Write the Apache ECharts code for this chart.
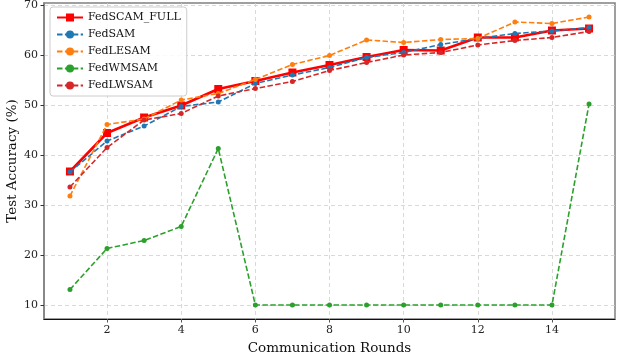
<!DOCTYPE html>
<html><head><meta charset="utf-8">
<script src="https://cdn.jsdelivr.net/npm/echarts@6/dist/echarts.min.js"></script>
<style>html,body{margin:0;padding:0;background:#fff}#c{width:620px;height:357px}</style>
</head><body><div id="c"></div>
<script>
const rounds = [1,2,3,4,5,6,7,8,9,10,11,12,13,14,15];
const fedSCAMFull = [36.7,44.4,47.5,49.9,53.2,54.8,56.5,58.0,59.6,61.0,60.9,63.5,63.5,64.9,65.3];
const fedSAM     = [36.6,42.8,45.8,49.7,50.6,54.3,56.0,57.5,59.5,60.5,62.1,63.3,64.3,64.8,65.5];
const fedLESAM   = [31.8,46.1,47.2,51.0,52.3,55.1,58.1,59.9,63.0,62.5,63.1,63.3,66.6,66.3,67.6];
const fedWMSAM   = [13.1,21.3,22.9,25.7,41.3,10.0,10.0,10.0,10.0,10.0,10.0,10.0,10.0,10.0,50.2];
const fedLWSAM   = [33.6,41.5,47.0,48.3,51.8,53.3,54.7,56.9,58.5,60.0,60.5,62.0,62.9,63.5,64.7];
const xTicks = [2,4,6,8,10,12,14];
const yTicks = [10,20,30,40,50,60,70];

const font = 'DejaVu Serif';
const pair = a => rounds.map((r,i)=>[r,a[i]]);
function dashed(name, data, color){
  return {name, type:'line', data:pair(data), symbol:'circle', symbolSize:5,
    lineStyle:{color, width:1.6, type:[5.5,2.4]}, itemStyle:{color}, z:3};
}
const chart = echarts.init(document.getElementById('c'), null, {renderer:'canvas'});
chart.setOption({
  animation:false,
  textStyle:{fontFamily:font},
  grid:{left:44, right:5, top:3, bottom:38, show:true, borderColor:'#808080', borderWidth:1.5,
    containLabel:false, outerBoundsMode:'none'},
  legend:{
    orient:'vertical', left:50, top:7, padding:[5,6,5,6], itemGap:6,
    itemWidth:26, itemHeight:10,
    backgroundColor:'rgba(255,255,255,0.85)', borderColor:'#cccccc', borderWidth:1, borderRadius:3,
    textStyle:{fontFamily:font, fontSize:11, color:'#111'},
    data:['FedSCAM_FULL','FedSAM','FedLESAM','FedWMSAM','FedLWSAM']
  },
  xAxis:{type:'value', min:0.3, max:15.7,
    name:'Communication Rounds', nameLocation:'middle', nameGap:22, nameMoveOverlap:false,
    nameTextStyle:{fontFamily:font, fontSize:13.5, color:'#111'},
    axisLine:{show:true, lineStyle:{color:'#111', width:1}},
    axisTick:{show:true, length:3.5, customValues:xTicks, lineStyle:{color:'#555'}},
    axisLabel:{customValues:xTicks, fontFamily:font, fontSize:11, color:'#222', margin:6},
    splitLine:{show:true, lineStyle:{color:'#cfcfcf', type:[4,3], width:0.8}}
  },
  yAxis:{type:'value', min:7.2, max:70.4,
    name:'Test Accuracy (%)', nameLocation:'middle', nameGap:25, nameMoveOverlap:false,
    nameTextStyle:{fontFamily:font, fontSize:13.5, color:'#111'},
    axisLine:{show:true, lineStyle:{color:'#808080', width:1.5}},
    axisTick:{show:true, length:3.5, customValues:yTicks, lineStyle:{color:'#333'}},
    axisLabel:{customValues:yTicks, fontFamily:font, fontSize:11, color:'#222', margin:6},
    splitLine:{show:true, lineStyle:{color:'#cfcfcf', type:[4,3], width:0.8}}
  },
  series:[
    {name:'FedSCAM_FULL', type:'line', data:pair(fedSCAMFull), symbol:'rect', symbolSize:8,
      lineStyle:{color:'#ff0000', width:2.6}, itemStyle:{color:'#ff0000'}, z:2},
    dashed('FedSAM', fedSAM, '#1f77b4'),
    dashed('FedLESAM', fedLESAM, '#ff7f0e'),
    dashed('FedWMSAM', fedWMSAM, '#2ca02c'),
    dashed('FedLWSAM', fedLWSAM, '#d62728')
  ]
});
</script></body></html>
